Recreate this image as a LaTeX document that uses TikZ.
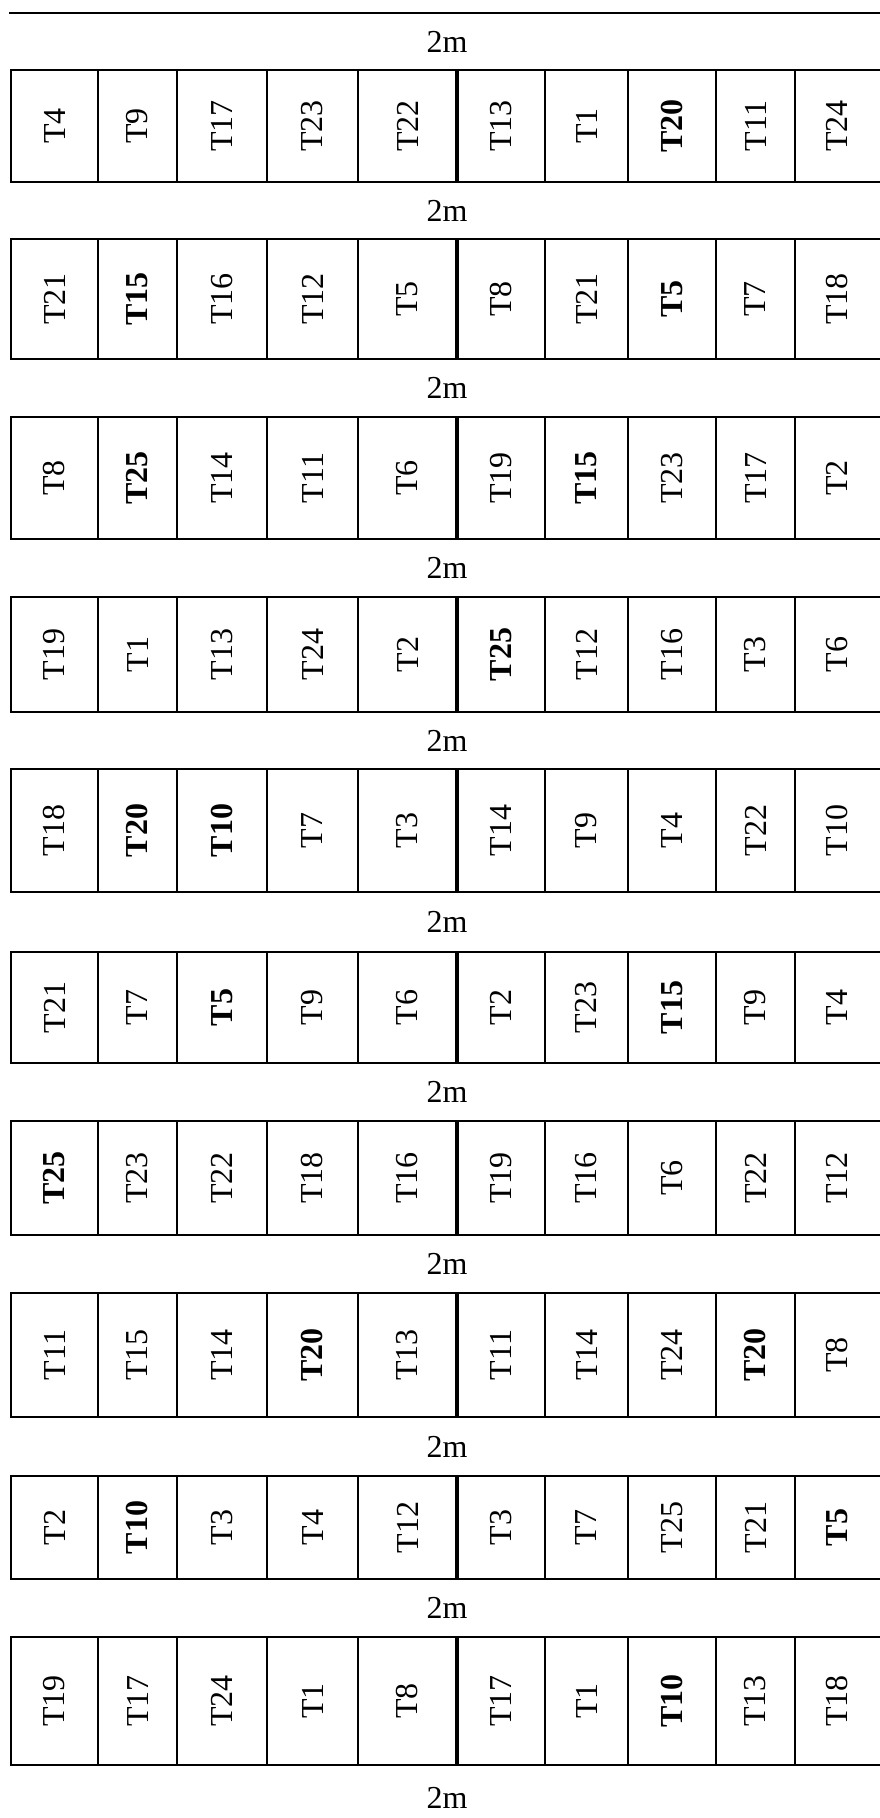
\documentclass[tikz,border=0pt]{standalone}
\usepackage{fontspec}
\setmainfont{Liberation Serif}
\newcommand\B[1]{\textbf{#1}}
\newcommand\gridrow[4]{%
  \draw[rowline] (879,#2) -- (11,#2) -- (11,#3) -- (879,#3);
  \foreach \xx in {98,177,267,358,545,628,716,795} \draw[rowline] (\xx,#2) -- (\xx,#3);
  \draw[midline] (457,#2) -- (457,#3);
  \foreach \lab [count=\i] in {#4} {
    \pgfmathsetmacro\cx{{54.5,137.5,222,312.5,407.5,501,586.5,672,755.5,837}[\i-1]}
    \node[lab] (c#1-\i) at (\cx,{(#2+#3)/2}) {\lab};
  }%
}
\begin{document}
\begin{tikzpicture}[x=1pt,y=-1pt,
  rowline/.style={line width=1.7pt, line cap=rect},
  midline/.style={line width=3.2pt},
  lab/.style={rotate=90, font=\fontsize{32}{32}\selectfont, inner sep=0pt},
  dim/.style={font=\fontsize{32}{32}\selectfont, inner sep=0pt}]
\useasboundingbox (0,0) rectangle (879,1818);
\draw[rowline] (10,13) -- (879,13);
\foreach \yy [count=\k] in {42,211,388,568,740.5,922,1092,1264,1446.5,1608,1798}
  \node[dim] (d\k) at (447,\yy) {2m};
\gridrow{1}{70}{182}{T4,T9,T17,T23,T22,T13,T1,\B{T20},T11,T24}
\gridrow{2}{239}{359}{T21,\B{T15},T16,T12,T5,T8,T21,\B{T5},T7,T18}
\gridrow{3}{417}{539}{T8,\B{T25},T14,T11,T6,T19,\B{T15},T23,T17,T2}
\gridrow{4}{597}{712}{T19,T1,T13,T24,T2,\B{T25},T12,T16,T3,T6}
\gridrow{5}{769}{892}{T18,\B{T20},\B{T10},T7,T3,T14,T9,T4,T22,T10}
\gridrow{6}{952}{1063}{T21,T7,\B{T5},T9,T6,T2,T23,\B{T15},T9,T4}
\gridrow{7}{1121}{1235}{\B{T25},T23,T22,T18,T16,T19,T16,T6,T22,T12}
\gridrow{8}{1293}{1417}{T11,T15,T14,\B{T20},T13,T11,T14,T24,\B{T20},T8}
\gridrow{9}{1476}{1579}{T2,\B{T10},T3,T4,T12,T3,T7,T25,T21,\B{T5}}
\gridrow{10}{1637}{1765}{T19,T17,T24,T1,T8,T17,T1,\B{T10},T13,T18}
\end{tikzpicture}
\end{document}
